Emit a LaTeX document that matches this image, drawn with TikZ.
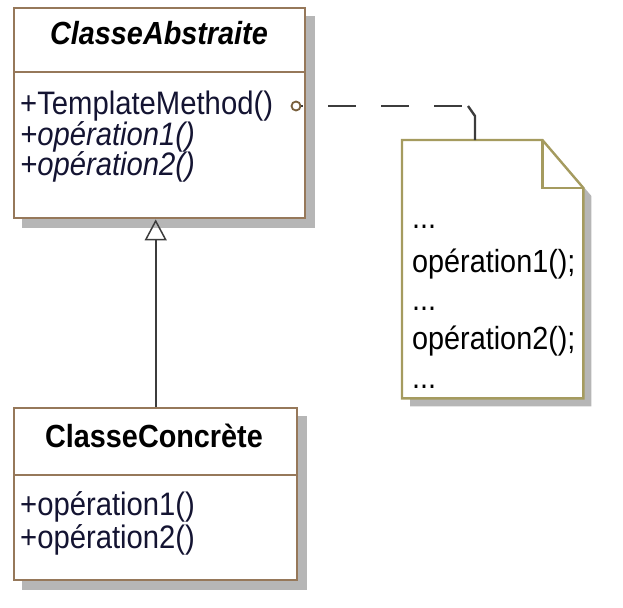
\documentclass[tikz,border=0pt]{standalone}
\usepackage{fontspec}
\setmainfont{Liberation Sans}[FakeStretch=0.9]
\usetikzlibrary{arrows.meta}
\definecolor{boxc}{RGB}{150,120,90}
\definecolor{notec}{RGB}{165,155,95}
\definecolor{shadowc}{RGB}{182,182,182}
\definecolor{navyc}{RGB}{20,20,50}
\definecolor{linec}{RGB}{60,60,60}
\definecolor{circc}{RGB}{120,95,60}
\begin{document}
\begin{tikzpicture}[x=1pt,y=-1pt,
  classbox/.style={draw=boxc, line width=2.4pt, fill=white, inner sep=0pt, anchor=north west},
  divider/.style={draw=boxc, line width=2.4pt},
  shadowfill/.style={fill=shadowc},
  titletxt/.style={inner sep=0pt, anchor=base, font=\fontsize{32}{38}\selectfont\bfseries, text=black},
  memtxt/.style={inner sep=0pt, anchor=base west, font=\fontsize{32.5}{38}\selectfont, text=navyc},
  notetxt/.style={inner sep=0pt, anchor=base west, font=\fontsize{32}{38}\selectfont, text=black},
  notebox/.style={draw=notec, line width=2.4pt, fill=white},
  dashlink/.style={draw=linec, line width=2.4pt, dash pattern=on 28pt off 25pt, dash phase=26pt},
  solidlink/.style={draw=linec, line width=2.4pt},
  inherit/.style={draw=linec, line width=2.2pt, -{Triangle[open, width=22pt, length=21pt, line width=1.5pt]}}
]
\useasboundingbox (0,0) rectangle (623,607);

% ---------- ClasseAbstraite ----------
\node[classbox, draw=none, fill=none, minimum width=291pt, minimum height=210pt] (abs) at (13,7) {};
\fill[shadowfill] ([shift={(9,9)}]abs.north west) rectangle ([shift={(9,9)}]abs.south east);
\node[classbox, minimum width=291pt, minimum height=210pt] (absb) at (13,7) {};
\coordinate (d1) at (0,72);
\draw[divider] (abs.west |- d1) -- (abs.east |- d1);
\node[titletxt, font=\fontsize{32}{38}\selectfont\bfseries\itshape] (abstitle) at (159,45) {ClasseAbstraite};
\node[memtxt] (tm) at (20,114.5) {+TemplateMethod()};
\node[memtxt, font=\fontsize{32.5}{38}\selectfont\itshape] (aop1) at (20,145) {+opération1()};
\node[memtxt, font=\fontsize{32.5}{38}\selectfont\itshape] (aop2) at (20,175.5) {+opération2()};

% ---------- ClasseConcrète ----------
\node[classbox, draw=none, fill=none, minimum width=283pt, minimum height=172pt] (conc) at (13,407) {};
\fill[shadowfill] ([shift={(9,9)}]conc.north west) rectangle ([shift={(9,9)}]conc.south east);
\node[classbox, minimum width=283pt, minimum height=172pt] (concb) at (13,407) {};
\coordinate (d2) at (0,475);
\draw[divider] (conc.west |- d2) -- (conc.east |- d2);
\node[titletxt] (conctitle) at (154,447) {ClasseConcrète};
\node[memtxt] (cop1) at (20,515) {+opération1()};
\node[memtxt] (cop2) at (20,548) {+opération2()};

% ---------- Note ----------
\node[inner sep=0pt, minimum width=181pt, minimum height=258pt, anchor=north west] (note) at (402,140) {};
\fill[shadowfill] ([shift={(8,8)}]note.north west) -- ([shift={(-33,8)}]note.north east)
  -- ([shift={(8,56)}]note.north east) -- ([shift={(8,8)}]note.south east)
  -- ([shift={(8,8)}]note.south west) -- cycle;
\draw[notebox] (note.north west) -- ([xshift=-41pt]note.north east)
  -- ([yshift=-48pt]note.north east) -- (note.south east) -- (note.south west) -- cycle;
\draw[draw=notec, line width=2.4pt] ([xshift=-41pt]note.north east)
  -- ([xshift=-41pt,yshift=-48pt]note.north east) -- ([yshift=-48pt]note.north east);
\node[notetxt] (n1) at (412,228) {...};
\node[notetxt] (n2) at (412,272) {opération1();};
\node[notetxt] (n3) at (412,310) {...};
\node[notetxt] (n4) at (412,349) {opération2();};
\node[notetxt] (n5) at (412,388) {...};

% ---------- Connectors ----------
\node[draw=circc, circle, minimum size=9pt, inner sep=0pt, line width=1.8pt, fill=white] (circ) at (296,106) {};
\coordinate (hookA) at (468,106);
\coordinate (hookB) at (475,116);
\draw[dashlink] (circ.east) -- (hookA);
\draw[solidlink] (hookA) -- (hookB) -- (hookB |- note.north);
\draw[inherit] (conc.north) -- (conc.north |- abs.south);
\end{tikzpicture}
\end{document}
